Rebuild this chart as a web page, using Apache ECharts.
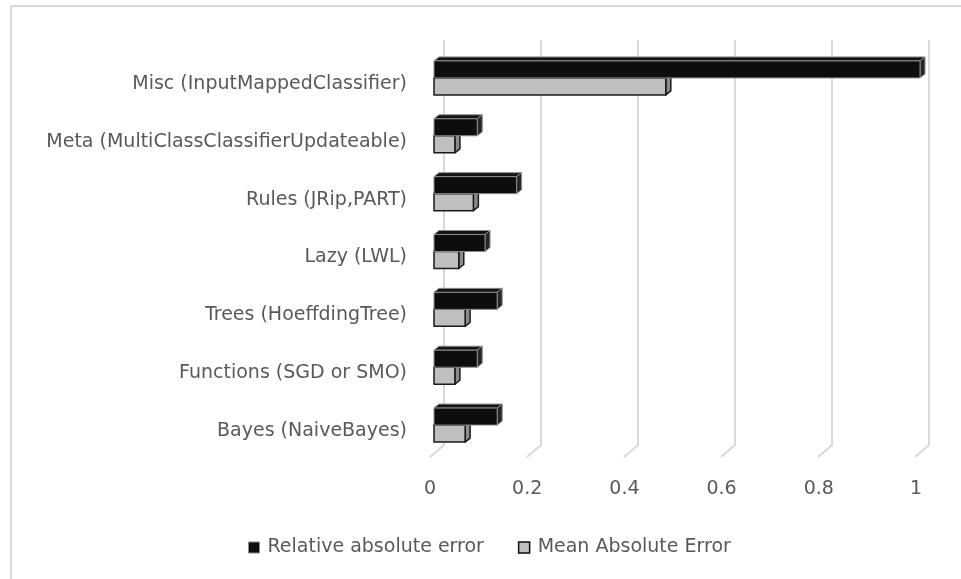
<!DOCTYPE html>
<html>
<head>
<meta charset="utf-8">
<script src="https://cdn.jsdelivr.net/npm/echarts@6/dist/echarts.min.js"></script>
<style>html,body{margin:0;padding:0;background:#fff;}#chart{width:961px;height:579px;}</style>
</head>
<body>
<div id="chart"></div>
<script>
// Categories listed bottom to top
var categories = ['Bayes (NaiveBayes)', 'Functions (SGD or SMO)', 'Trees (HoeffdingTree)', 'Lazy (LWL)', 'Rules (JRip,PART)', 'Meta (MultiClassClassifierUpdateable)', 'Misc (InputMappedClassifier)'];
var relativeAbsoluteError = [0.13, 0.089, 0.13, 0.105, 0.17, 0.089, 1.0];
var meanAbsoluteError = [0.064, 0.043, 0.064, 0.051, 0.081, 0.043, 0.477];
var xTicks = [0, 0.2, 0.4, 0.6, 0.8, 1];
var seriesNames = ['Relative absolute error', 'Mean Absolute Error'];

var FONT = 'DejaVu Sans';
var FS = 19;
var TEXT = '#595959';
var DEPTH = [5, -4];

function barRenderer(upper, front, top, side, stroke, lw) {
  return function (params, api) {
    var v = api.value(0), c = api.value(1);
    var p0 = api.coord([0, c]);
    var p1 = api.coord([v, c]);
    var band = api.size([0, 1])[1];
    var bh = band * 0.294;
    var y0 = upper ? p0[1] - bh : p0[1];
    var y1 = y0 + bh;
    var x0 = p0[0], x1 = p1[0];
    var dx = DEPTH[0], dy = DEPTH[1];
    var st = {stroke: stroke, lineWidth: lw, lineJoin: 'round'};
    return {
      type: 'group',
      children: [
        {type: 'polygon', shape: {points: [[x0, y0], [x1, y0], [x1 + dx, y0 + dy], [x0 + dx, y0 + dy]]}, style: Object.assign({fill: top}, st)},
        {type: 'polygon', shape: {points: [[x1, y0], [x1 + dx, y0 + dy], [x1 + dx, y1 + dy], [x1, y1]]}, style: Object.assign({fill: side}, st)},
        {type: 'rect', shape: {x: x0, y: y0, width: x1 - x0, height: bh}, style: Object.assign({fill: front}, st)}
      ]
    };
  };
}

var chart = echarts.init(document.getElementById('chart'), null, {renderer: 'canvas'});
var option = {
  animation: false,
  backgroundColor: '#ffffff',
  textStyle: {fontFamily: FONT},
  graphic: [
    {type: 'polyline', shape: {points: [[11, 579], [11, 6], [961, 6]]}, style: {stroke: '#d9d9d9', lineWidth: 2, fill: null}, silent: true}
  ],
  legend: {
    left: 243, top: 533,
    itemWidth: 11, itemHeight: 11, itemGap: 34,
    icon: 'rect',
    textStyle: {fontFamily: FONT, fontSize: FS, color: TEXT, padding: [0, 0, 0, 3]},
    data: [
      {name: seriesNames[0], itemStyle: {color: '#0d0d0d', borderColor: '#8c8c8c', borderWidth: 1}},
      {name: seriesNames[1], itemStyle: {color: '#bfbfbf', borderColor: '#0d0d0d', borderWidth: 1.5}}
    ]
  },
  grid: [
    {left: 434, right: 41, top: 49, bottom: 125},
    {left: 444, right: 32, top: 40, bottom: 134},
    {left: 430, right: 45, top: 40, bottom: 122},
    {left: 434, right: 41, top: 55, bottom: 119}
  ],
  xAxis: [
    {gridIndex: 0, type: 'value', min: 0, max: 1, show: false},
    {gridIndex: 1, type: 'value', min: 0, max: 1, show: false},
    {gridIndex: 2, type: 'value', min: 0, max: 1, interval: 0.2,
      axisLine: {show: false}, axisTick: {show: false}, splitLine: {show: false},
      axisLabel: {margin: 23, fontFamily: FONT, fontSize: FS, color: TEXT}},
    {gridIndex: 3, type: 'value', min: 0, max: 1, show: false}
  ],
  yAxis: [
    {gridIndex: 0, type: 'category', data: categories, show: false},
    {gridIndex: 1, type: 'value', min: 0, max: 1, show: false},
    {gridIndex: 2, type: 'value', min: 0, max: 1, show: false},
    {gridIndex: 3, type: 'category', data: categories,
      axisLine: {show: false}, axisTick: {show: false}, splitLine: {show: false},
      axisLabel: {margin: 27, fontFamily: FONT, fontSize: FS, color: TEXT}}
  ],
  series: [
    {
      type: 'custom', name: 'gridlines', xAxisIndex: 1, yAxisIndex: 1, z: 1, silent: true,
      data: xTicks.map(function (t) { return [t]; }),
      renderItem: function (params, api) {
        var t = api.value(0);
        var a = api.coord([t, 1]);
        var b = api.coord([t, 0]);
        return {type: 'polyline', shape: {points: [a, b, [b[0] - 14, b[1] + 12]]}, style: {stroke: '#d9d9d9', lineWidth: 2, fill: null}};
      }
    },
    {
      type: 'custom', name: seriesNames[1], xAxisIndex: 0, yAxisIndex: 0, z: 2,
      itemStyle: {color: '#bfbfbf', borderColor: '#0d0d0d'},
      encode: {x: 0, y: 1},
      data: meanAbsoluteError.map(function (v, i) { return [v, i]; }),
      renderItem: barRenderer(false, '#bfbfbf', '#d4d4d4', '#8c8c8c', '#1a1a1a', 1.5)
    },
    {
      type: 'custom', name: seriesNames[0], xAxisIndex: 0, yAxisIndex: 0, z: 3,
      itemStyle: {color: '#0d0d0d', borderColor: '#8c8c8c'},
      encode: {x: 0, y: 1},
      data: relativeAbsoluteError.map(function (v, i) { return [v, i]; }),
      renderItem: barRenderer(true, '#0d0d0d', '#141414', '#262626', '#8c8c8c', 1)
    }
  ]
};
chart.setOption(option);
</script>
</body>
</html>
